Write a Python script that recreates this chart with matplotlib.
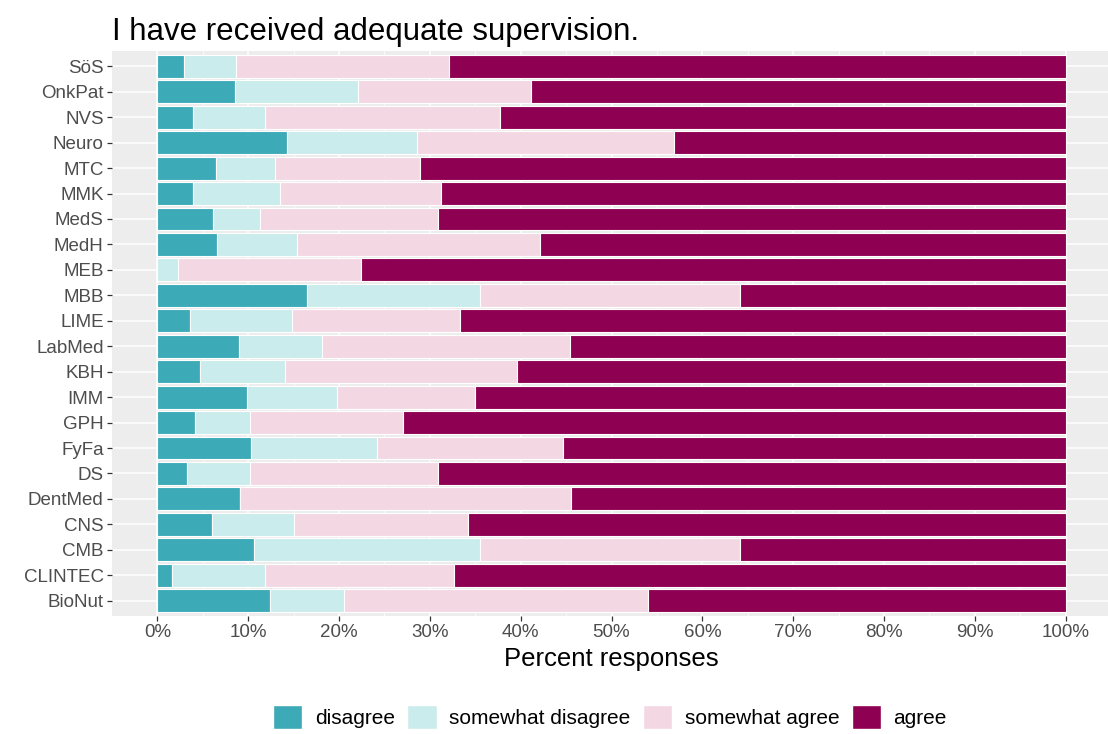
import matplotlib
matplotlib.use("Agg")
import matplotlib.pyplot as plt
from matplotlib.patches import Patch
import numpy as np

plt.rcParams['font.family'] = ['Liberation Sans', 'DejaVu Sans']

categories = ["BioNut", "CLINTEC", "CMB", "CNS", "DentMed", "DS", "FyFa", "GPH",
              "IMM", "KBH", "LabMed", "LIME", "MBB", "MEB", "MedH", "MedS", "MMK",
              "MTC", "Neuro", "NVS", "OnkPat", "SöS"]
disagree          = [12.4, 1.6, 10.6, 6.0, 9.1, 3.3, 10.3, 4.1, 9.9, 4.7, 9.0, 3.6, 16.5, 0.0, 6.6, 6.1, 3.9, 6.4, 14.3, 3.9, 8.5, 2.9]
somewhat_disagree = [8.2, 10.3, 24.9, 9.0, 0.0, 6.9, 13.9, 6.1, 9.9, 9.4, 9.1, 11.2, 19.0, 2.3, 8.8, 5.2, 9.6, 6.6, 14.3, 8.0, 13.6, 5.7]
somewhat_agree    = [33.4, 20.8, 28.7, 19.2, 36.4, 20.7, 20.5, 16.8, 15.2, 25.5, 27.3, 18.5, 28.6, 20.1, 26.7, 19.6, 17.7, 15.9, 28.3, 25.8, 19.0, 23.5]
agree             = [46.0, 67.3, 35.8, 65.8, 54.5, 69.1, 55.3, 73.0, 65.0, 60.4, 54.6, 66.7, 35.9, 77.6, 57.9, 69.1, 68.8, 71.1, 43.1, 62.3, 58.9, 67.9]

levels = ["disagree", "somewhat disagree", "somewhat agree", "agree"]
colors = ["#3DAAB8", "#CBECEC", "#F3D8E3", "#8E0152"]
x_ticks = list(range(0, 101, 10))
x_tick_labels = [f"{t}%" for t in x_ticks]

fig = plt.figure(figsize=(11.08, 7.34), dpi=100)
ax = fig.add_axes([112/1108, 1-616/734, 999/1108, 565/734])
ax.set_facecolor("#EDEDED")

y = np.arange(len(categories))
series = [disagree, somewhat_disagree, somewhat_agree, agree]
left = np.zeros(len(categories))
for vals, col, lab in zip(series, colors, levels):
    vals = np.array(vals)
    ax.barh(y, vals, left=left, height=0.9, color=col, edgecolor="white",
            linewidth=0.8, label=lab, zorder=3)
    left += vals

ax.set_xlim(-5, 105)
ax.set_ylim(-0.6, len(categories) - 0.4)
ax.set_yticks(y)
ax.set_yticklabels(categories)
ax.set_xticks(x_ticks)
ax.set_xticklabels(x_tick_labels)
ax.set_xticks(np.arange(5, 100, 10), minor=True)
ax.grid(True, which="major", color="white", linewidth=1.1, zorder=0)
ax.grid(True, which="minor", axis="x", color="white", linewidth=0.5, zorder=0)
ax.tick_params(axis="both", which="major", length=3.5, width=0.9, color="#333333",
               labelsize=13.5, labelcolor="#4D4D4D", pad=2.5)
ax.tick_params(axis="both", which="minor", length=0)
for s in ax.spines.values():
    s.set_visible(False)

ax.set_xlabel("Percent responses", fontsize=18.5, color="black", labelpad=4)
fig.text(112/1108, 1-40/734, "I have received adequate supervision.", fontsize=22.5,
         ha="left", va="baseline", color="black")

handles = [Patch(facecolor=c, edgecolor="white", label=l) for c, l in zip(colors, levels)]
fig.legend(handles=handles, loc="center", bbox_to_anchor=(610/1108, 1-717/734), ncol=4,
           frameon=False, fontsize=15, handlelength=1.4, handleheight=1.4,
           handletextpad=0.6, columnspacing=0.6, borderaxespad=0)

fig.savefig("out.png", dpi=100)
